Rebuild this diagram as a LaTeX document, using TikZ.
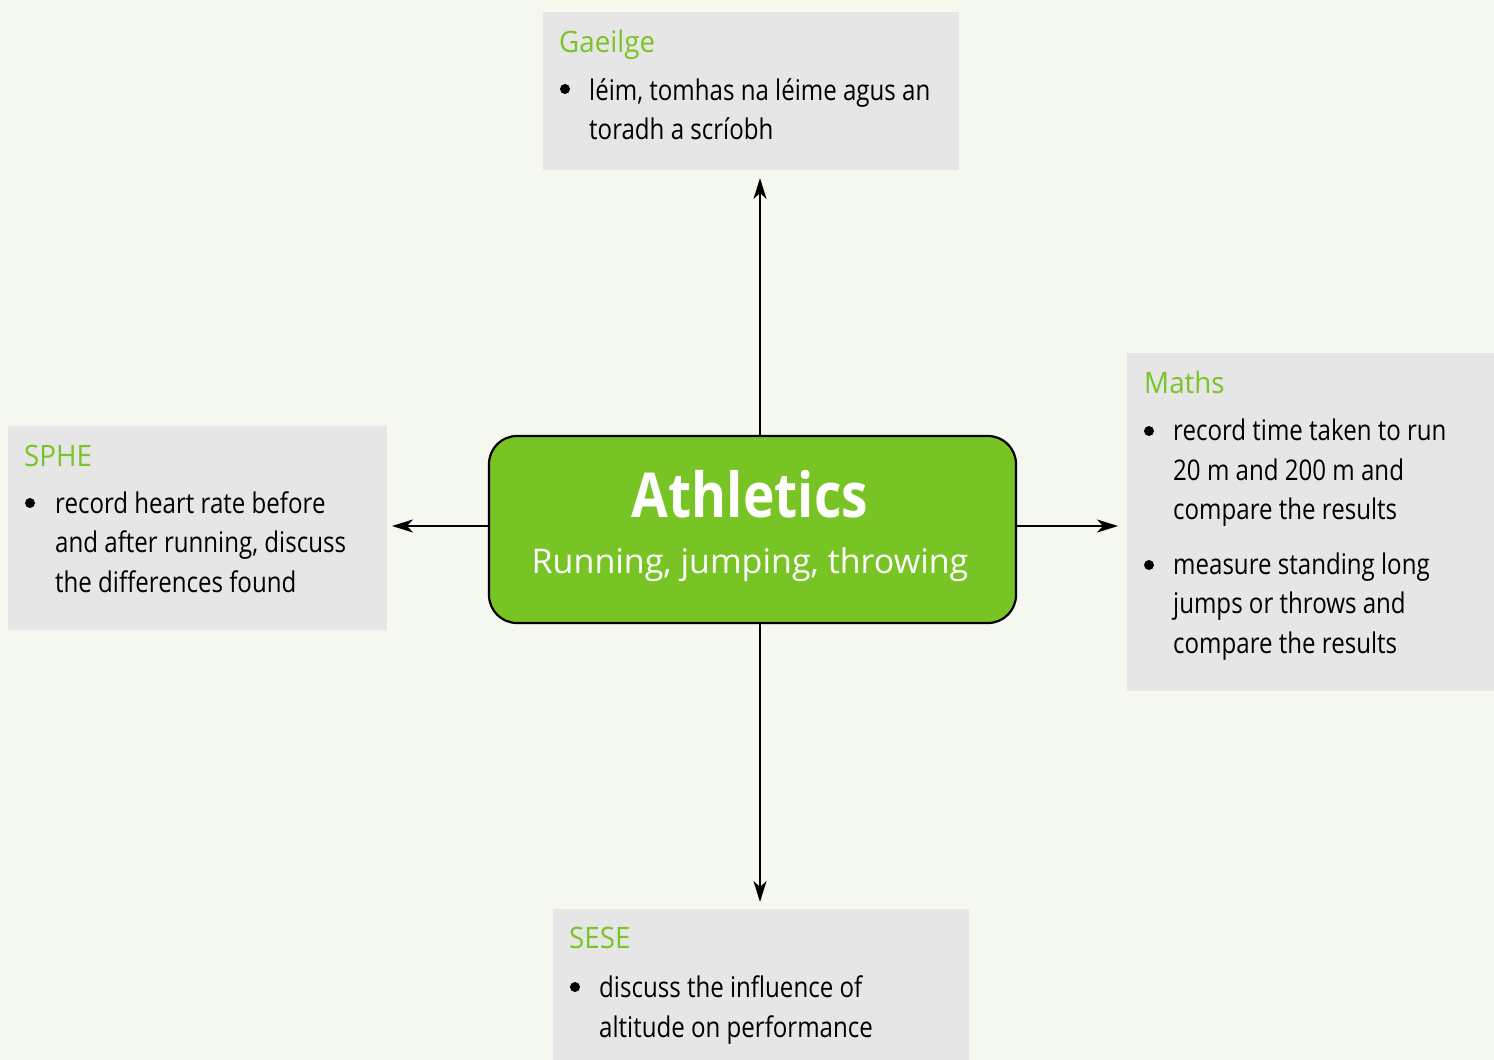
\documentclass[tikz,border=0pt]{standalone}
\usepackage{fontspec}
\setmainfont[FakeStretch=0.845]{Open Sans}
\newfontfamily\titlefont[FakeStretch=0.94]{Open Sans}
\newfontfamily\subfont[FakeStretch=1.0]{Open Sans}
\newfontfamily\athfont[FakeStretch=0.86]{Open Sans}
\usetikzlibrary{arrows.meta}
\definecolor{bgc}{HTML}{F5F8EE}
\definecolor{boxc}{HTML}{E6E6E6}
\definecolor{grn}{HTML}{78C424}
\definecolor{ttl}{HTML}{7AC427}
\tikzset{
  topicbox/.style={draw=none, fill=boxc},
  topictitle/.style={anchor=base west, inner sep=0pt, text=ttl, font=\titlefont\fontsize{29.5}{34}\selectfont},
  bodyline/.style={anchor=base west, inner sep=0pt, text=black, font=\fontsize{28.5}{34}\selectfont},
  bulletdot/.style={circle, fill=black, inner sep=0pt, minimum size=10pt},
  conn/.style={line width=1.3pt, -{Stealth[length=21pt,width=13pt,inset=6pt]}},
}
\begin{document}
\begin{tikzpicture}[x=1pt,y=-1pt]
\useasboundingbox (0,0) rectangle (1494,1060);
\fill[bgc] (0,0) rectangle (1494,1060);

% topic boxes
\path[topicbox] (543,12) rectangle (959,170);
\path[topicbox] (8,426) rectangle (387,630);
\path[topicbox] (1127,353) rectangle (1494,691);
\path[topicbox] (553,909) rectangle (969,1060);

% centre
\node[draw=black, line width=2.2pt, fill=grn, rounded corners=28pt,
      minimum width=527pt, minimum height=187pt, inner sep=0pt] (center) at (752.5,529.5) {};
\node[anchor=base, inner sep=0pt, text=white, font=\athfont\fontsize{62}{70}\bfseries\selectfont] (ath) at (750,517) {Athletics};
\node[anchor=base, inner sep=0pt, text=white, font=\subfont\fontsize{34}{40}\selectfont] (run) at (750,573) {Running, jumping, throwing};

% Gaeilge
\node[topictitle] (gt) at (559,52) {Gaeilge};
\node[bulletdot] (gb1) at (565,89) {};
\node[bodyline] (gl1) at (589,100) {léim, tomhas na léime agus an};
\node[bodyline] (gl2) at (589,139) {toradh a scríobh};

% SPHE
\node[topictitle] (st) at (24,466) {SPHE};
\node[bulletdot] (sb1) at (30,503) {};
\node[bodyline] (sl1) at (55,513) {record heart rate before};
\node[bodyline] (sl2) at (55,552) {and after running, discuss};
\node[bodyline] (sl3) at (55,592) {the differences found};

% Maths
\node[topictitle] (mt) at (1144,393) {Maths};
\node[bulletdot] (mb1) at (1149,431) {};
\node[bodyline] (ml1) at (1173,440) {record time taken to run};
\node[bodyline] (ml2) at (1173,480) {20 m and 200 m and};
\node[bodyline] (ml3) at (1173,519) {compare the results};
\node[bulletdot] (mb2) at (1149,565) {};
\node[bodyline] (ml4) at (1173,574) {measure standing long};
\node[bodyline] (ml5) at (1173,613) {jumps or throws and};
\node[bodyline] (ml6) at (1173,653) {compare the results};

% SESE
\node[topictitle] (et) at (569,948) {SESE};
\node[bulletdot] (eb1) at (575,987) {};
\node[bodyline] (el1) at (599,997) {discuss the influence of};
\node[bodyline] (el2) at (599,1037) {altitude on performance};

% connector ends
\coordinate (tipN) at (760,178);
\coordinate (tipS) at (760,902);
\coordinate (tipW) at (392,526);
\coordinate (tipE) at (1118,526);

\draw[conn] (center.north -| tipN) -- (tipN);
\draw[conn] (center.south -| tipS) -- (tipS);
\draw[conn] (center.west |- tipW) -- (tipW);
\draw[conn] (center.east |- tipE) -- (tipE);
\end{tikzpicture}
\end{document}
